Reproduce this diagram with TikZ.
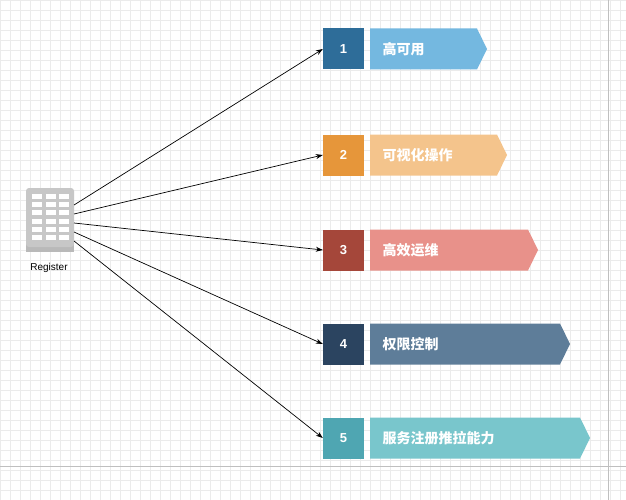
\documentclass[tikz,border=0pt]{standalone}
\usepackage{fontspec}
\setmainfont{Liberation Sans}
\newfontfamily\cjk{Noto Sans CJK SC}
\usetikzlibrary{arrows.meta}
\definecolor{d1}{HTML}{2E6D99}\definecolor{l1}{HTML}{74B8E0}
\definecolor{d2}{HTML}{E6963A}\definecolor{l2}{HTML}{F4C48C}
\definecolor{d3}{HTML}{A5473A}\definecolor{l3}{HTML}{E8918A}
\definecolor{d4}{HTML}{2B4460}\definecolor{l4}{HTML}{5E7D99}
\definecolor{d5}{HTML}{4FA6B2}\definecolor{l5}{HTML}{79C6CC}
\definecolor{gridc}{HTML}{EBEBEB}
\tikzset{
 numbox/.style={minimum width=41pt,minimum height=41pt,inner sep=0pt,text=white,font=\bfseries\fontsize{13}{13}\selectfont},
 lab/.style={text=white,font=\cjk\bfseries\fontsize{14}{14}\selectfont,anchor=west},
 conn/.style={-{Stealth[length=7pt,width=5pt]},black,line width=0.7pt}
}
\begin{document}
\begin{tikzpicture}[x=1pt,y=-1pt]
\useasboundingbox (0,0) rectangle (626,500);
\fill[white] (0,0) rectangle (626,500);
\draw[gridc,line width=0.5pt,step=10pt] (0,0) grid (626,500);
\draw[gray!50,line width=0.6pt] (0,466) -- (626,466);
\draw[gray!50,line width=0.6pt] (608,0) -- (608,500);
% icon
\fill[gray!55] (26,194) rectangle (74,252);
\fill[rounded corners=3pt,fill=black!22] (26,188) rectangle (74,247);
\foreach \r in {0,...,5}{\foreach \c in {0,1,2}{
 \fill[white] (32+\c*13.5,194+\r*8.2) rectangle (42+\c*13.5,199+\r*8.2);}}
\node[inner sep=0pt,minimum width=48pt,minimum height=64pt] (reg) at (50,220) {};
\node[font=\fontsize{10}{10}\selectfont] at (49,268) {Register};
\foreach \i/\y/\e/\sy in {1/49/487/205,2/155/507/214,3/250/538/223,4/344/570/232,5/438/590/241}{
 \node[numbox,fill=d\i] (n\i) at (343.5,\y) {\i};
 \fill[l\i] (370,\y-20.5) -- (\e-10,\y-20.5) -- (\e,\y) -- (\e-10,\y+20.5) -- (370,\y+20.5) -- cycle;
 \coordinate (s\i) at (74,\sy);
 \draw[conn] (s\i) -- (n\i.west);
}
\node[lab] at (379,49) {高可用};
\node[lab] at (379,155) {可视化操作};
\node[lab] at (379,250) {高效运维};
\node[lab] at (379,344) {权限控制};
\node[lab] at (379,438) {服务注册推拉能力};
\end{tikzpicture}
\end{document}
